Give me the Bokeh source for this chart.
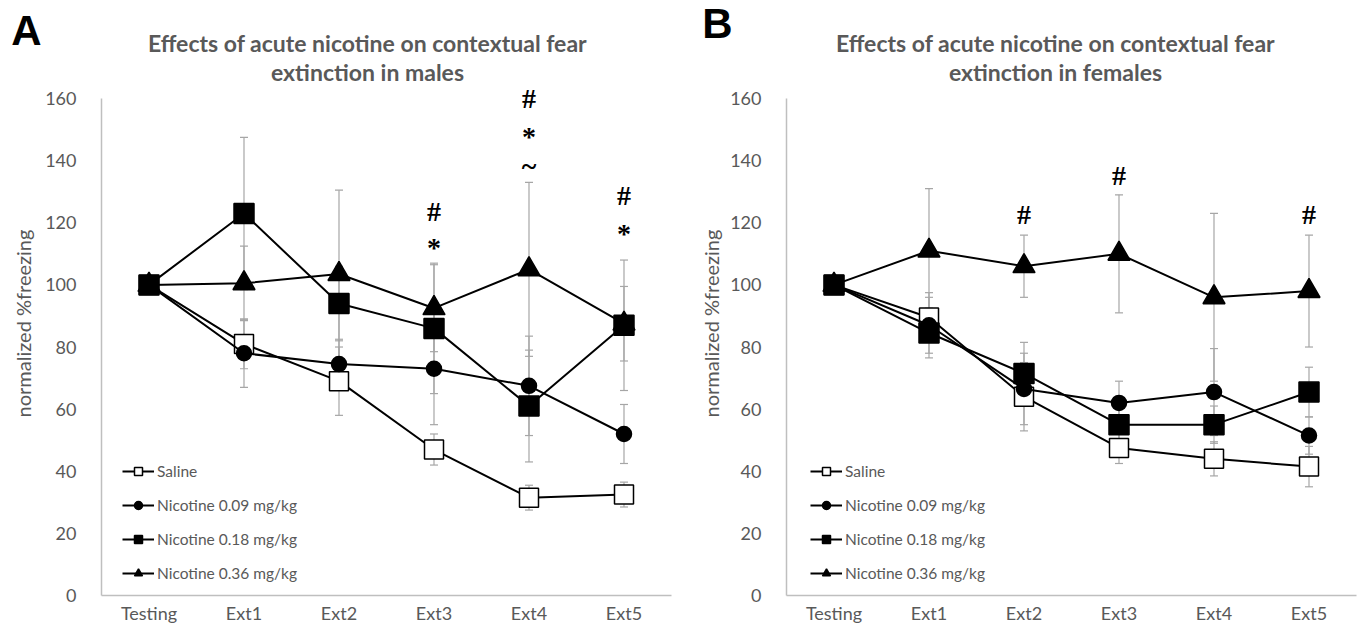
import math
from bokeh.plotting import figure
from bokeh.models import (Range1d, Whisker, TeeHead, ColumnDataSource,
                          Legend, LegendItem, Label, LabelSet, FixedTicker)
from bokeh.layouts import row
from bokeh.embed import file_html
from bokeh.resources import INLINE

# ---------------- data ----------------
categories = ["Testing", "Ext1", "Ext2", "Ext3", "Ext4", "Ext5"]
series_names = ["Saline", "Nicotine 0.09 mg/kg", "Nicotine 0.18 mg/kg", "Nicotine 0.36 mg/kg"]
y_ticks = [0, 20, 40, 60, 80, 100, 120, 140, 160]

# Panel A: males (mean, SEM)
male_saline = [100, 81, 69, 47, 31.5, 32.5]
male_saline_err = [0, 8, 11, 5, 4, 4]
male_nic009 = [100, 78, 74.5, 73, 67.5, 52]
male_nic009_err = [0, 11, 8, 18, 16, 9.5]
male_nic018 = [100, 123, 94, 86, 61, 87]
male_nic018_err = [0, 24.5, 12, 21, 18, 21]
male_nic036 = [100, 100.5, 103.5, 92.5, 105, 87.5]
male_nic036_err = [0, 12, 27, 14, 28, 12]

# Panel B: females (mean, SEM)
female_saline = [100, 89.5, 64, 47.5, 44, 41.5]
female_saline_err = [0, 8, 11, 5, 5.5, 6.5]
female_nic009 = [100, 87, 66.5, 62, 65.5, 51.5]
female_nic009_err = [0, 9, 11.5, 7, 14, 6]
female_nic018 = [100, 84.5, 71.5, 55, 55, 65.5]
female_nic018_err = [0, 8, 10, 6, 6, 8]
female_nic036 = [100, 111, 106, 110, 96, 98]
female_nic036_err = [0, 20, 10, 19, 27, 18]

# significance marks: (category, symbol, y)
male_sig_cat = ["Ext3", "Ext3", "Ext4", "Ext4", "Ext4", "Ext5", "Ext5"]
male_sig_sym = ["#", "*", "#", "*", "~", "#", "*"]
male_sig_y = [123.6, 112.2, 160.0, 147.9, 138.4, 128.8, 116.7]
female_sig_cat = ["Ext2", "Ext3", "Ext5"]
female_sig_sym = ["#", "#", "#"]
female_sig_y = [122.7, 135.2, 122.7]

GREY_TXT = "#595959"
AXIS_GREY = "#bfbfbf"
ERR_GREY = "#a6a6a6"
FONT = "Lato"

x_idx = list(range(len(categories)))

styles = [
    dict(marker="square", size=19, fill_color="white"),
    dict(marker="circle", size=15, fill_color="black"),
    dict(marker="square", size=20, fill_color="black"),
    dict(marker="triangle", size=22, fill_color="black"),
]
draw_order = [0, 1, 3, 2]  # filled square on top

H = 637
PX_PER_X = 95.0        # pixels per category step
PX_PER_Y = 3.106       # pixels per y unit
ZERO_FROM_BOTTOM = 42  # pixels between y=0 and the bottom of the figure


def make_panel(letter, title1, title2, means, errs, sig_cat, sig_sym, sig_y,
               width, left_px, title_sx, letter_sx, letter_sy, ylabel_sx, legend_x):
    x0 = -0.5 - left_px / PX_PER_X
    y0 = -ZERO_FROM_BOTTOM / PX_PER_Y
    p = figure(width=width, height=H,
               x_range=Range1d(x0, x0 + width / PX_PER_X),
               y_range=Range1d(y0, y0 + H / PX_PER_Y),
               output_backend="svg", toolbar_location=None,
               min_border_left=0, min_border_right=0, min_border_top=0, min_border_bottom=0)
    p.outline_line_color = None
    p.grid.visible = False
    p.background_fill_color = "white"

    for ax in (p.xaxis[0], p.yaxis[0]):
        ax.axis_line_color = AXIS_GREY
        ax.axis_line_width = 1.5
        ax.major_tick_line_color = None
        ax.minor_tick_line_color = None
        ax.major_label_text_color = GREY_TXT
        ax.major_label_text_font = FONT
    p.yaxis.fixed_location = -0.5
    p.yaxis.bounds = (0, 160)
    p.yaxis.ticker = FixedTicker(ticks=y_ticks)
    p.yaxis.major_label_text_font_size = "18px"
    p.yaxis.major_label_standoff = 19
    p.xaxis.fixed_location = 0
    p.xaxis.bounds = (-0.5, len(categories) - 0.5)
    p.xaxis.ticker = FixedTicker(ticks=x_idx)
    p.xaxis.major_label_overrides = {i: c for i, c in zip(x_idx, categories)}
    p.xaxis.major_label_text_font_size = "18px"
    p.xaxis.major_label_standoff = 0

    for i in range(4):
        lo = [m - e for m, e in zip(means[i], errs[i])]
        hi = [m + e for m, e in zip(means[i], errs[i])]
        src = ColumnDataSource(dict(x=x_idx, lo=lo, hi=hi))
        w = Whisker(base="x", lower="lo", upper="hi", source=src, dimension="height",
                    line_color=ERR_GREY, line_width=1.2, level="underlay",
                    lower_head=TeeHead(size=8, line_color=ERR_GREY, line_width=1.2),
                    upper_head=TeeHead(size=8, line_color=ERR_GREY, line_width=1.2))
        p.add_layout(w)

    renderers = {}
    for i in draw_order:
        st = styles[i]
        lr = p.line(x_idx, means[i], line_color="black", line_width=2)
        sr = p.scatter(x_idx, means[i], marker=st["marker"], size=st["size"],
                       fill_color=st["fill_color"], line_color="black", line_width=1.5)
        renderers[i] = (lr, sr)

    items = [LegendItem(label=series_names[i], renderers=list(renderers[i])) for i in range(4)]
    legend = Legend(items=items, location=(legend_x, 54), background_fill_alpha=0,
                    border_line_color=None, padding=0, margin=0, spacing=14,
                    glyph_width=32, glyph_height=20, label_height=20,
                    label_standoff=3, label_text_font=FONT,
                    label_text_font_size="15.5px", label_text_color=GREY_TXT)
    p.add_layout(legend)

    sig_src = ColumnDataSource(dict(x=[categories.index(c) for c in sig_cat], y=sig_y, t=sig_sym))
    p.add_layout(LabelSet(x="x", y="y", text="t", source=sig_src, text_align="center",
                          text_baseline="middle", text_font=FONT, text_font_style="bold",
                          text_font_size="28px", text_color="black"))

    # screen units: relative to the frame's bottom-left corner (frame = whole figure)
    for txt, sy in ((title1, 595), (title2, 566)):
        p.add_layout(Label(x=title_sx, y=sy, x_units="screen", y_units="screen", text=txt,
                           text_align="center", text_baseline="middle", text_font=FONT,
                           text_font_style="bold", text_font_size="23px", text_color=GREY_TXT))
    p.add_layout(Label(x=letter_sx, y=letter_sy, x_units="screen", y_units="screen",
                       text=letter, text_align="center", text_baseline="middle",
                       text_font="Liberation Sans", text_font_style="bold",
                       text_font_size="42px", text_color="black"))
    p.add_layout(Label(x=ylabel_sx, y=314, x_units="screen", y_units="screen",
                       text="normalized %freezing", angle=math.pi / 2,
                       text_align="center", text_baseline="middle", text_font=FONT,
                       text_font_size="20px", text_color=GREY_TXT))
    return p


pA = make_panel("A", "Effects of acute nicotine on contextual fear", "extinction in males",
                [male_saline, male_nic009, male_nic018, male_nic036],
                [male_saline_err, male_nic009_err, male_nic018_err, male_nic036_err],
                male_sig_cat, male_sig_sym, male_sig_y,
                width=680, left_px=101,
                title_sx=367, letter_sx=26, letter_sy=607, ylabel_sx=22, legend_x=122)
pB = make_panel("B", "Effects of acute nicotine on contextual fear", "extinction in females",
                [female_saline, female_nic009, female_nic018, female_nic036],
                [female_saline_err, female_nic009_err, female_nic018_err, female_nic036_err],
                female_sig_cat, female_sig_sym, female_sig_y,
                width=680, left_px=106,
                title_sx=375, letter_sx=37, letter_sy=614, ylabel_sx=30, legend_x=130)

layout = row(pA, pB, spacing=0)
open("out.html", "w").write(file_html(layout, INLINE))
